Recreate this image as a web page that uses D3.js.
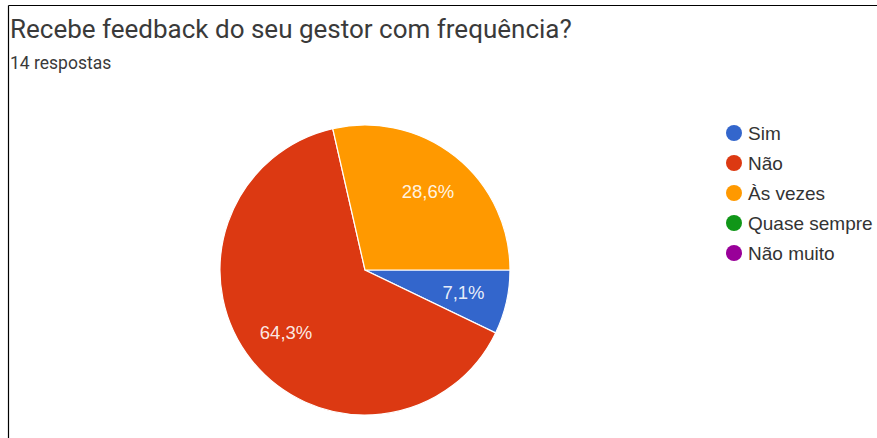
<!DOCTYPE html>
<html>
<head>
<meta charset="utf-8">
<script src="https://cdn.jsdelivr.net/npm/d3@7"></script>
<style>
  html, body { margin: 0; padding: 0; background: #fff; }
  svg { display: block; }
</style>
</head>
<body>
<svg id="chart" width="877" height="438"></svg>
<script>
// Survey answers: "Recebe feedback do seu gestor com frequência?"
const categories = ["Sim", "Não", "Às vezes", "Quase sempre", "Não muito"];
const counts = [1, 9, 4, 0, 0];
const colors = ["#3366cc", "#dc3912", "#ff9900", "#109618", "#990099"];
const title = "Recebe feedback do seu gestor com frequência?";
const subtitle = "14 respostas";

const total = d3.sum(counts);
const fmt = v => (Math.round(v * 1000) / 10).toFixed(1).replace(".", ",") + "%";

const svg = d3.select("#chart");
const W = 877, H = 438;

// frame lines along top and left
svg.append("line").attr("x1", 8.5).attr("y1", 5.5).attr("x2", W).attr("y2", 5.5)
  .attr("stroke", "#000").attr("stroke-width", 1.2);
svg.append("line").attr("x1", 8.5).attr("y1", 5.5).attr("x2", 8.5).attr("y2", H)
  .attr("stroke", "#000").attr("stroke-width", 1.2);

svg.append("text").attr("x", 10).attr("y", 38)
  .attr("font-family", "Roboto, Arial, sans-serif").attr("font-size", 26)
  .attr("fill", "#3a3a3a").text(title);
svg.append("text").attr("x", 10).attr("y", 69)
  .attr("font-family", "Roboto, Arial, sans-serif").attr("font-size", 17.5)
  .attr("fill", "#3a3a3a").text(subtitle);

// pie
const cx = 365, cy = 270, R = 145;
const color = d3.scaleOrdinal().domain(categories).range(colors);
const pie = d3.pie().sort(null)
  .startAngle(Math.PI / 2).endAngle(Math.PI / 2 + 2 * Math.PI)
  .value(d => d.value);
const data = categories.map((c, i) => ({ name: c, value: counts[i] }));
const arcs = pie(data).filter(a => a.data.value > 0);
const arc = d3.arc().innerRadius(0).outerRadius(R);
const labelArc = d3.arc().innerRadius(101).outerRadius(101);

const g = svg.append("g").attr("transform", `translate(${cx},${cy})`);
g.selectAll("path").data(arcs).join("path")
  .attr("d", arc)
  .attr("fill", d => color(d.data.name))
  .attr("stroke", "#fff").attr("stroke-width", 1.2);
g.selectAll("text").data(arcs).join("text")
  .attr("transform", d => `translate(${labelArc.centroid(d)})`)
  .attr("text-anchor", "middle").attr("dy", "0.35em")
  .attr("font-family", "Arial, 'Liberation Sans', sans-serif").attr("font-size", 18.5)
  .attr("fill", "#fff").attr("fill-opacity", 0.9)
  .text(d => fmt(d.data.value / total));

// legend
const legend = svg.append("g").attr("transform", "translate(734,133)");
const item = legend.selectAll("g").data(categories).join("g")
  .attr("transform", (d, i) => `translate(0,${i * 30})`);
item.append("circle").attr("r", 8).attr("fill", d => color(d));
item.append("text").attr("x", 14).attr("dy", "0.35em")
  .attr("font-family", "Arial, 'Liberation Sans', sans-serif").attr("font-size", 19)
  .attr("fill", "#333").text(d => d);
</script>
</body>
</html>
